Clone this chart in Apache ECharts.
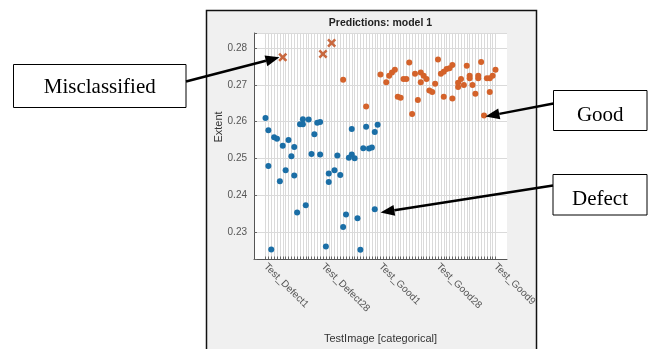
<!DOCTYPE html>
<html>
<head>
<meta charset="utf-8">
<script src="https://cdn.jsdelivr.net/npm/echarts@6/dist/echarts.min.js"></script>
<style>
html,body{margin:0;padding:0;background:#fff;}
#chart{width:648px;height:349px;}
</style>
</head>
<body>
<div id="chart"></div>
<script>
// categories, in the order MATLAB sorts them (alphabetical)
const defectNames = ['Test_Defect1','Test_Defect10','Test_Defect11','Test_Defect12','Test_Defect13','Test_Defect14',
  'Test_Defect15','Test_Defect16','Test_Defect17','Test_Defect18','Test_Defect19','Test_Defect2','Test_Defect20',
  'Test_Defect21','Test_Defect22','Test_Defect23','Test_Defect24','Test_Defect25','Test_Defect26','Test_Defect27',
  'Test_Defect28','Test_Defect29','Test_Defect3','Test_Defect30','Test_Defect31','Test_Defect32','Test_Defect33',
  'Test_Defect34','Test_Defect35','Test_Defect36','Test_Defect37','Test_Defect38','Test_Defect39','Test_Defect4',
  'Test_Defect40','Test_Defect5','Test_Defect6','Test_Defect7','Test_Defect8','Test_Defect9'];
const goodNames = ['Test_Good1','Test_Good10','Test_Good11','Test_Good12','Test_Good13','Test_Good14','Test_Good15',
  'Test_Good16','Test_Good17','Test_Good18','Test_Good19','Test_Good2','Test_Good20','Test_Good21','Test_Good22',
  'Test_Good23','Test_Good24','Test_Good25','Test_Good26','Test_Good27','Test_Good28','Test_Good29','Test_Good3',
  'Test_Good30','Test_Good31','Test_Good32','Test_Good33','Test_Good34','Test_Good35','Test_Good36','Test_Good37',
  'Test_Good38','Test_Good39','Test_Good4','Test_Good40','Test_Good41','Test_Good5','Test_Good6','Test_Good7',
  'Test_Good8','Test_Good9'];

// predicted defect (blue)
const blueIdx = [0,1,1,2,3,4,5,6,7,8,9,10,10,11,12,13,13,14,15,16,17,18,19,19,21,22,22,24,25,26,27,28,29,30,30,31,32,33,34,35,36,37,38,38,39];
const blueVal = [0.2610,0.2577,0.2480,0.2253,0.2558,0.2554,0.2438,0.2535,0.2468,0.2550,0.2506,0.2454,0.2531,0.2353,
  0.2593,0.2607,0.2593,0.2373,0.2606,0.2512,0.2566,0.2597,0.2599,0.2511,0.2261,0.2436,0.2459,0.2468,0.2508,0.2455,
  0.2314,0.2348,0.2502,0.2580,0.2511,0.2501,0.2338,0.2252,0.2528,0.2586,0.2527,0.2530,0.2362,0.2572,0.2592];

// predicted good (orange)
const orangeIdx = [27,35,40,42,43,44,45,46,47,48,49,50,51,52,53,54,54,55,56,57,58,59,60,61,62,62,63,64,65,65,67,67,68,69,70,71,71,72,73,74,74,75,76,77,78,78,79,80];
const orangeVal = [0.2714,0.2641,0.2728,0.2707,0.2725,0.2734,0.2741,0.2668,0.2665,0.2716,0.2716,0.2761,0.2621,0.2730,
  0.2659,0.2734,0.2707,0.2725,0.2716,0.2685,0.2681,0.2703,0.2769,0.2730,0.2736,0.2668,0.2743,0.2745,0.2663,0.2754,
  0.2694,0.2706,0.2716,0.2700,0.2752,0.2725,0.2718,0.2700,0.2676,0.2725,0.2718,0.2762,0.2617,0.2718,0.2681,0.2718,
  0.2725,0.2741];

// misclassified (x markers)
const crossIdx = [6,20,23];
const crossVal = [0.2775,0.2784,0.2814];

const labelStep = 20;
const PAD = 4;

const names = defectNames.concat(goodNames);
const N = names.length;
const xCats = [];
for (let i = 0; i < PAD; i++) xCats.push('_l' + i);
names.forEach(n => xCats.push(n));
for (let i = 0; i < PAD; i++) xCats.push('_r' + i);
const isReal = i => i >= PAD && i < PAD + N;

function pts(idx, vals) {
  return idx.map((c, k) => [c + PAD, vals[k]]);
}

function arrow(x1, y1, x2, y2) {
  const L = 14, W = 5.5;
  const dx = x2 - x1, dy = y2 - y1, len = Math.sqrt(dx * dx + dy * dy);
  const ux = dx / len, uy = dy / len;
  const bx = x2 - ux * L, by = y2 - uy * L;
  return [
    { type: 'line', z: 100, shape: { x1: x1, y1: y1, x2: bx, y2: by }, style: { stroke: '#000', lineWidth: 2.5 } },
    { type: 'polygon', z: 100, shape: { points: [[x2, y2], [bx - uy * W, by + ux * W], [bx + uy * W, by - ux * W]] },
      style: { fill: '#000' } }
  ];
}

function box(x, y, w, h, text, ty) {
  return [
    { type: 'rect', z: 99, shape: { x: x, y: y, width: w, height: h }, style: { fill: '#fff', stroke: '#000', lineWidth: 1 } },
    { type: 'text', z: 100, x: x + w / 2, y: ty,
      style: { text: text, font: '21px "Liberation Serif"', fill: '#000', align: 'center', verticalAlign: 'middle' } }
  ];
}

const serif = '"Liberation Sans", Arial, sans-serif';
const chart = echarts.init(document.getElementById('chart'));

chart.setOption({
  animation: false,
  backgroundColor: '#fff',
  grid: { left: 254, top: 33, width: 253, height: 231, show: true, backgroundColor: '#fff', borderWidth: 0 },
  xAxis: {
    type: 'category',
    data: xCats,
    boundaryGap: false,
    name: 'TestImage [categorical]',
    nameLocation: 'middle',
    nameGap: 74,
    nameTextStyle: { fontFamily: serif, fontSize: 11, color: '#333' },
    axisLine: { lineStyle: { color: '#555', width: 1 } },
    axisTick: { inside: true, length: 2.5, interval: i => isReal(i), lineStyle: { color: '#666' } },
    axisLabel: {
      interval: i => isReal(i) && (i - PAD) % labelStep === 0,
      rotate: -45, margin: 6, fontFamily: serif, fontSize: 10, color: '#555'
    },
    splitLine: { show: true, interval: i => isReal(i), lineStyle: { color: '#dadada', width: 1 } }
  },
  yAxis: {
    type: 'value',
    min: 0.2227,
    max: 0.2841,
    splitNumber: 6,
    minInterval: 0.01,
    maxInterval: 0.01,
    axisLine: { show: true, lineStyle: { color: '#555', width: 1 } },
    axisTick: { show: true, inside: true, length: 3, lineStyle: { color: '#666' } },
    axisLabel: {
      margin: 7, fontFamily: serif, fontSize: 10, color: '#555',
      formatter: v => Math.abs(v * 100 - Math.round(v * 100)) < 1e-6 ? v.toFixed(2) : ''
    },
    splitLine: { show: true, lineStyle: { color: '#dadada', width: 1 } }
  },
  series: [
    { type: 'scatter', data: pts(blueIdx, blueVal), symbol: 'circle', symbolSize: 6,
      itemStyle: { color: '#1a6ea6', opacity: 1 } },
    { type: 'scatter', data: pts(orangeIdx, orangeVal), symbol: 'circle', symbolSize: 6,
      itemStyle: { color: '#d4622a', opacity: 1 } },
    { type: 'scatter', data: pts(crossIdx, crossVal),
      symbol: 'path://M2,0L5,3L8,0L10,2L7,5L10,8L8,10L5,7L2,10L0,8L3,5L0,2Z', symbolSize: 9,
      itemStyle: { color: '#c8683f', opacity: 1 } }
  ],
  graphic: [
    { type: 'rect', z: -10, silent: true, shape: { x: 206.5, y: 10.5, width: 330, height: 400 },
      style: { fill: '#f0f0f0', stroke: '#111', lineWidth: 1.5 } },
    { type: 'text', z: 5, x: 380.5, y: 23,
      style: { text: 'Predictions: model 1', font: 'bold 10.5px ' + serif, fill: '#222', align: 'center', verticalAlign: 'middle' } },
    { type: 'text', z: 5, x: 219, y: 127, rotation: Math.PI / 2,
      style: { text: 'Extent', font: '11px ' + serif, fill: '#333', align: 'center', verticalAlign: 'middle' } }
  ]
    .concat(box(13.5, 64.5, 172.5, 43, 'Misclassified', 87))
    .concat(box(553.5, 90.5, 93.5, 40, 'Good', 115))
    .concat([{ type: 'rect', z: 100, shape: { x: 555, y: 122, width: 90, height: 7.5 }, style: { fill: '#fff' } }])
    .concat(box(553, 174.5, 94, 40.5, 'Defect', 199))
    .concat(arrow(186, 81.5, 279.5, 57.3))
    .concat(arrow(553.5, 103.5, 485.5, 116.5))
    .concat(arrow(553, 185.5, 380.5, 212.5))
});
</script>
</body>
</html>
